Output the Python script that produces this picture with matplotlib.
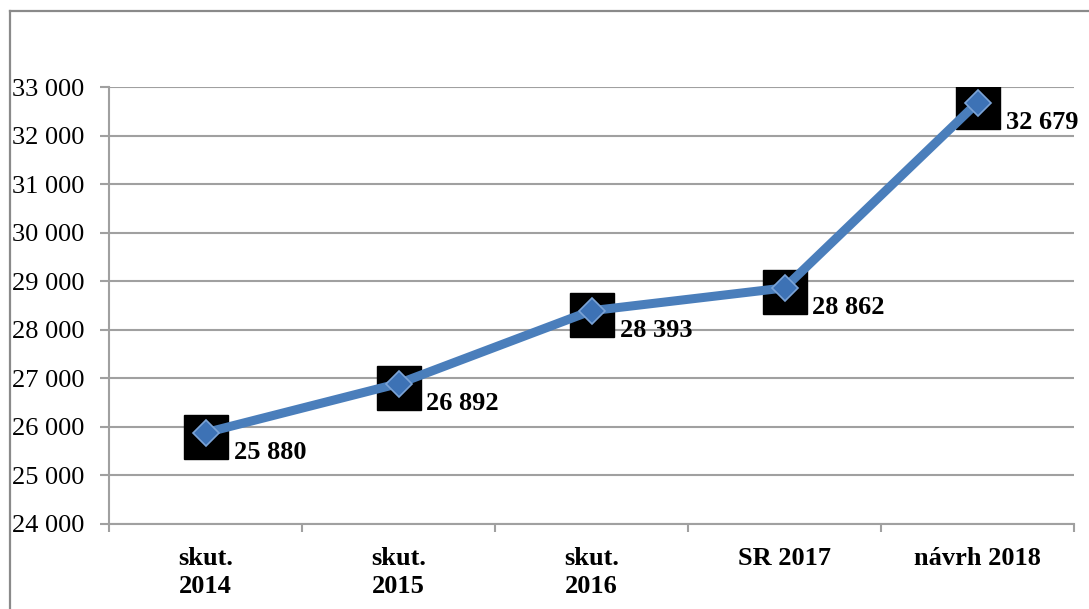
import matplotlib
matplotlib.use("Agg")
import matplotlib.pyplot as plt
from matplotlib.lines import Line2D
import matplotlib.transforms as mtransforms

categories = ["skut.\n2014", "skut.\n2015", "skut.\n2016", "SR 2017", "návrh 2018"]
values = [25880, 26892, 28393, 28862, 32679]
value_labels = ["25 880", "26 892", "28 393", "28 862", "32 679"]
yticks = [24000, 25000, 26000, 27000, 28000, 29000, 30000, 31000, 32000, 33000]
ytick_labels = ["24 000", "25 000", "26 000", "27 000", "28 000", "29 000",
                "30 000", "31 000", "32 000", "33 000"]

plt.rcParams['font.family'] = ['Liberation Serif', 'DejaVu Serif']

fig = plt.figure(figsize=(10.89, 6.09), dpi=100)
ax = fig.add_axes([109/1089, 85/609, (1074-109)/1089, (524-87)/609])

grid_c = '#a0a0a0'
x = list(range(len(categories)))

# shadow squares (offset slightly down)
shadow_tr = ax.transData + mtransforms.ScaledTranslation(0, -4/100, fig.dpi_scale_trans)
ax.plot(x, values, linestyle='none', marker='s', markersize=31.5,
        color='black', transform=shadow_tr, zorder=3)
ax.plot(x, values, color='#4A7EBB', linewidth=6.5, zorder=4, solid_capstyle='butt')
ax.plot(x, values, linestyle='none', marker='D', markersize=13.5,
        markerfacecolor='#3D72B5', markeredgecolor='#7BA3D6', markeredgewidth=1.2, zorder=5)

for xi, v, lab in zip(x, values, value_labels):
    ax.annotate(lab, (xi, v), xytext=(28, -20), textcoords='offset pixels',
                ha='left', va='center', fontsize=19, fontweight='bold', zorder=6)

ax.set_xlim(-0.5, len(categories) - 0.5)
ax.set_ylim(24000, 33000)
ax.set_yticks(yticks)
ax.set_yticklabels(ytick_labels, fontsize=19)
ax.set_xticks(x)
ax.set_xticklabels(categories, fontsize=19, fontweight='bold', linespacing=1.3,
                   multialignment='center')
ax.set_xticks([i - 0.5 for i in range(len(categories) + 1)], minor=True)
ax.tick_params(axis='x', which='major', length=0, pad=16.5)
ax.tick_params(axis='x', which='minor', length=6, width=1.5, color=grid_c)
ax.tick_params(axis='y', which='major', length=6.5, width=1.5, color=grid_c, pad=11)
ax.grid(axis='y', color=grid_c, linewidth=1.5, zorder=0)
ax.set_axisbelow(True)
for s in ['top', 'right']:
    ax.spines[s].set_visible(False)
ax.spines['left'].set_color(grid_c)
ax.spines['left'].set_linewidth(1.5)
ax.spines['bottom'].set_color(grid_c)
ax.spines['bottom'].set_linewidth(1.5)

# outer border (left and top visible)
bx = 9.5 / 1089
by = 1 - 11 / 609
fig.add_artist(Line2D([bx, bx], [0, by], transform=fig.transFigure, color='#8a8a8a', linewidth=1.6))
fig.add_artist(Line2D([bx, 1], [by, by], transform=fig.transFigure, color='#8a8a8a', linewidth=1.6))

fig.savefig('out.png', dpi=100)
